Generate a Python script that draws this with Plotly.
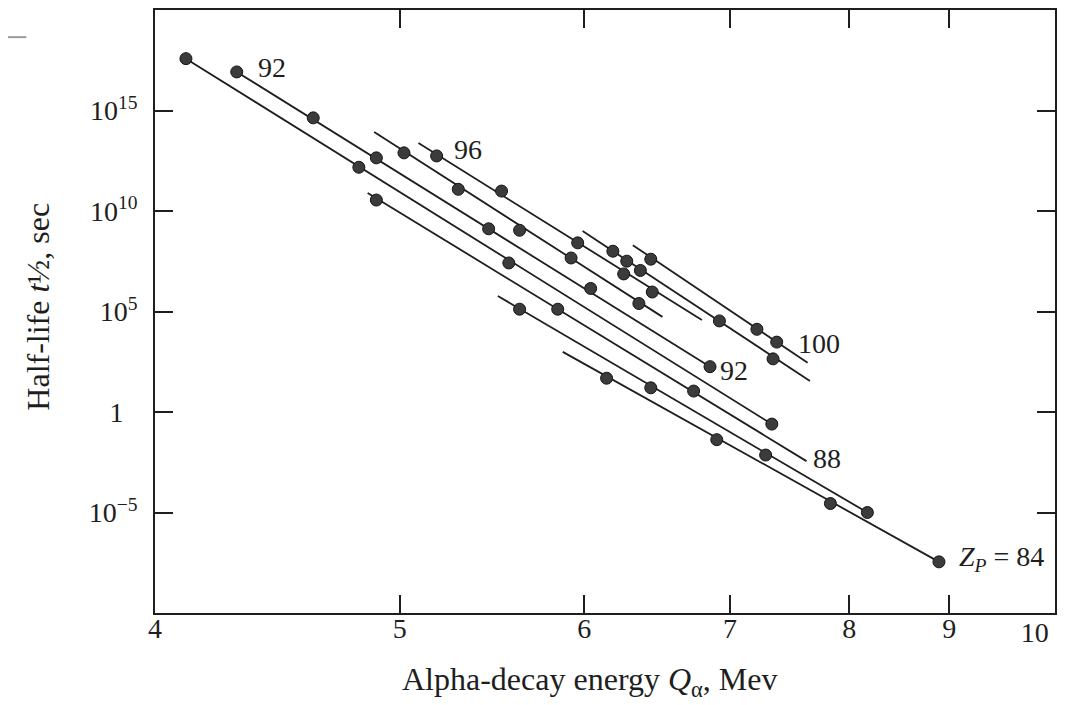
import math
import plotly.graph_objects as go

# ---------------- data ----------------
# alpha-decay energy Q (MeV) and half-life t1/2 (s) of the plotted points, one series per Z
q_z84 = [6.14, 6.90, 7.83, 8.89]
t_z84 = [48, 4.2e-2, 2.8e-5, 3.5e-8]

q_z86 = [5.62, 6.43, 7.28, 8.17]
t_z86 = [1.3e5, 16, 7.2e-3, 1.0e-5]

q_z88 = [4.89, 5.84, 6.73]
t_z88 = [3.5e10, 1.3e5, 11]

q_z90 = [4.11, 4.81, 5.56, 7.33]
t_z90 = [3.8e17, 1.5e12, 2.6e7, 0.25]

q_z92 = [4.30, 4.61, 4.89, 5.45, 6.04, 6.85]
t_z92 = [8.3e16, 4.3e14, 4.4e12, 1.3e9, 1.4e6, 180]

q_z94 = [5.02, 5.29, 5.62, 5.92, 6.35]
t_z94 = [7.8e12, 1.2e11, 1.1e9, 4.6e7, 2.5e5]

q_z96 = [5.18, 5.52, 5.96, 6.25, 6.44]
t_z96 = [5.5e12, 9.8e10, 2.6e8, 7.4e6, 9.3e5]

q_z98 = [6.18, 6.27, 6.36, 6.92, 7.34]
t_z98 = [1.0e8, 3.2e7, 1.1e7, 3.4e4, 440]

q_z100 = [6.43, 7.21, 7.37]
t_z100 = [4.0e7, 1.3e4, 3.0e3]

# straight guide lines drawn through each series: [start, end]
line_q_z84 = [5.87, 8.89]
line_t_z84 = [980, 3.5e-8]
line_q_z86 = [5.50, 8.17]
line_t_z86 = [5.9e5, 1.0e-5]
line_q_z88 = [4.85, 7.62]
line_t_z88 = [7.9e10, 3.6e-3]
line_q_z90 = [4.11, 7.33]
line_t_z90 = [3.8e17, 0.25]
line_q_z92 = [4.30, 6.85]
line_t_z92 = [8.3e16, 180]
line_q_z94 = [4.88, 6.51]
line_t_z94 = [8.5e13, 5.4e4]
line_q_z96 = [5.09, 6.79]
line_t_z96 = [2.4e13, 3.8e4]
line_q_z98 = [5.99, 7.65]
line_t_z98 = [1.0e9, 35]
line_q_z100 = [6.31, 7.63]
line_t_z100 = [2.0e8, 280]

# curve labels
label_text = ["92", "96", "92", "100", "88", "<i>Z<sub>P</sub></i> = 84"]
label_q = [4.44, 5.34, 7.03, 7.73, 7.80, 9.60]
label_t = [1.4e17, 1.2e13, 110, 2.7e3, 4.6e-3, 4.9e-8]

# axis ticks
x_tick_q = [4, 5, 6, 7, 8, 9]
x_tick_text = ["4", "5", "6", "7", "8", "9"]
x_end_q = [10]
x_end_text = ["10"]
y_tick_vals = [1e15, 1e10, 1e5, 1, 1e-5]
y_tick_text = ["10<sup>15</sup>", "10<sup>10</sup>", "10<sup>5</sup>", "1\u2007",
               "10<sup>\u22125</sup>"]

# ---------------- scale ----------------
# the energy axis of the original is compressed towards high Q (Geiger-Nuttall style)
def tx(q):
    return q ** -0.4

X_RANGE = [tx(4.0), tx(10.26)]
Y_RANGE = [-10, 20]

FONT = "Liberation Serif"
INK = "#1e1e1e"

series = [
    (q_z84, t_z84, line_q_z84, line_t_z84),
    (q_z86, t_z86, line_q_z86, line_t_z86),
    (q_z88, t_z88, line_q_z88, line_t_z88),
    (q_z90, t_z90, line_q_z90, line_t_z90),
    (q_z92, t_z92, line_q_z92, line_t_z92),
    (q_z94, t_z94, line_q_z94, line_t_z94),
    (q_z96, t_z96, line_q_z96, line_t_z96),
    (q_z98, t_z98, line_q_z98, line_t_z98),
    (q_z100, t_z100, line_q_z100, line_t_z100),
]

fig = go.Figure()
for q, t, lq, lt in series:
    fig.add_trace(go.Scatter(
        x=[tx(v) for v in lq], y=lt, mode="lines",
        line=dict(color=INK, width=1.8), hoverinfo="skip"))
for q, t, lq, lt in series:
    fig.add_trace(go.Scatter(
        x=[tx(v) for v in q], y=t, mode="markers",
        marker=dict(size=12, color="#3b3b3b", line=dict(color="#141414", width=1))))

# invisible trace carrying the secondary axis for the "10" end label
fig.add_trace(go.Scatter(x=[tx(10)], y=[1], xaxis="x2", mode="markers",
                         marker=dict(opacity=0), hoverinfo="skip"))

for txt, q, t in zip(label_text, label_q, label_t):
    fig.add_annotation(x=tx(q), y=math.log10(t), text=txt,
                       showarrow=False, xref="x", yref="y",
                       font=dict(family=FONT, size=28, color=INK))

# axis titles
fig.add_annotation(text="Alpha-decay energy <i>Q</i><sub>\u03b1</sub>, Mev",
                   xref="paper", yref="paper", x=0.483, y=-0.113,
                   xanchor="center", yanchor="middle", showarrow=False,
                   font=dict(family=FONT, size=32, color=INK))
fig.add_annotation(text="Half-life <i>t</i>\u00bd, sec",
                   xref="paper", yref="paper", x=-0.13, y=0.508,
                   xanchor="center", yanchor="middle", textangle=-90, showarrow=False,
                   font=dict(family=FONT, size=32, color=INK))

# small scanner mark at top-left of the page
fig.add_shape(type="line", xref="paper", yref="paper",
              x0=-0.1633, x1=-0.143, y0=0.955, y1=0.955,
              line=dict(color="#9a9a9a", width=2))

axis_common = dict(showgrid=False, zeroline=False, showline=True, linewidth=1.6,
                   linecolor=INK, ticks="inside", ticklen=18, tickwidth=1.6,
                   tickcolor=INK, mirror="ticks",
                   tickfont=dict(family=FONT, size=28, color=INK))

fig.update_layout(
    width=1066, height=697,
    margin=dict(l=147, r=19, t=0, b=92),
    plot_bgcolor="white", paper_bgcolor="white",
    showlegend=False,
    font=dict(family=FONT, size=28, color=INK),
    xaxis=dict(range=X_RANGE, tickvals=[tx(v) for v in x_tick_q], ticktext=x_tick_text,
               ticklabelstandoff=-10, **axis_common),
    xaxis2=dict(overlaying="x", side="bottom", range=X_RANGE,
                tickvals=[tx(v) for v in x_end_q], ticktext=x_end_text,
                showgrid=False, zeroline=False, showline=False,
                ticks="inside", ticklen=18, tickcolor="rgba(0,0,0,0)",
                ticklabelstandoff=0,
                tickfont=dict(family=FONT, size=28, color=INK)),
    yaxis=dict(type="log", range=Y_RANGE, tickvals=y_tick_vals, ticktext=y_tick_text,
               ticklabelstandoff=10, **axis_common),
)

fig.write_html("out.html")
